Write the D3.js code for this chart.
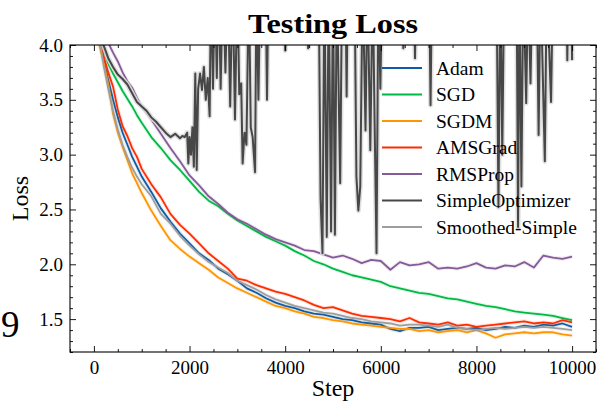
<!DOCTYPE html>
<html>
<head>
<meta charset="utf-8">
<script src="https://cdn.jsdelivr.net/npm/d3@7"></script>
<style>
  body { margin: 0; background: #fff; }
  text { font-family: "Liberation Serif", "DejaVu Serif", serif; fill: #000; }
</style>
</head>
<body>
<svg id="chart" width="597" height="406"></svg>
<script>
// steps shared by the smooth optimizers
const steps = [0, 100, 200, 300, 400, 500, 600, 700, 800, 900, 1000,
  1200, 1400, 1600, 1800, 2000, 2200, 2400, 2600, 2800, 3000,
  3200, 3400, 3600, 3800, 4000, 4200, 4400, 4600, 4800, 5000,
  5200, 5400, 5600, 5800, 6000, 6200, 6400, 6600, 6800, 7000,
  7200, 7400, 7600, 7800, 8000, 8200, 8400, 8600, 8800, 9000,
  9200, 9400, 9600, 9800, 10000];

const adam = [6.0, 4.15, 3.88, 3.68, 3.50, 3.34, 3.20, 3.09, 2.98, 2.89, 2.80,
  2.66, 2.51, 2.39, 2.28, 2.19, 2.10, 2.04, 1.96, 1.91, 1.85,
  1.78, 1.74, 1.69, 1.65, 1.62, 1.60, 1.57, 1.55, 1.54, 1.52,
  1.50, 1.49, 1.47, 1.46, 1.45, 1.41, 1.39, 1.42, 1.42, 1.43,
  1.40, 1.41, 1.42, 1.41, 1.42, 1.40, 1.41, 1.43, 1.42, 1.44,
  1.43, 1.45, 1.44, 1.46, 1.43];

const sgd = [6.0, 4.12, 3.96, 3.83, 3.74, 3.66, 3.58, 3.51, 3.44, 3.36, 3.29,
  3.16, 3.06, 2.95, 2.86, 2.76, 2.66, 2.58, 2.53, 2.46, 2.40,
  2.35, 2.30, 2.25, 2.21, 2.17, 2.12, 2.08, 2.03, 2.00, 1.96,
  1.93, 1.90, 1.88, 1.86, 1.84, 1.80, 1.78, 1.76, 1.74, 1.73,
  1.71, 1.69, 1.68, 1.66, 1.64, 1.62, 1.61, 1.59, 1.57, 1.56,
  1.55, 1.54, 1.53, 1.51, 1.49];

const sgdm = [6.0, 4.02, 3.85, 3.64, 3.37, 3.20, 3.07, 2.95, 2.83, 2.74, 2.65,
  2.49, 2.35, 2.22, 2.14, 2.07, 2.01, 1.95, 1.88, 1.83, 1.78,
  1.74, 1.70, 1.66, 1.62, 1.60, 1.57, 1.55, 1.52, 1.51, 1.49,
  1.48, 1.46, 1.45, 1.44, 1.43, 1.42, 1.41, 1.41, 1.39, 1.40,
  1.38, 1.39, 1.40, 1.38, 1.40, 1.37, 1.33, 1.36, 1.37, 1.38,
  1.37, 1.38, 1.38, 1.36, 1.35];

const amsgrad = [6.0, 4.12, 3.90, 3.75, 3.62, 3.41, 3.26, 3.17, 3.06, 2.98, 2.87,
  2.73, 2.61, 2.46, 2.36, 2.28, 2.19, 2.10, 2.03, 1.96, 1.87,
  1.85, 1.81, 1.78, 1.75, 1.73, 1.70, 1.67, 1.63, 1.60, 1.61,
  1.58, 1.55, 1.53, 1.52, 1.51, 1.50, 1.48, 1.51, 1.47, 1.46,
  1.45, 1.47, 1.44, 1.45, 1.43, 1.44, 1.45, 1.46, 1.47, 1.48,
  1.46, 1.47, 1.46, 1.49, 1.47];

const rmsprop = [6.0, 4.5, 4.15, 4.02, 3.93, 3.85, 3.75, 3.67, 3.61, 3.52, 3.44,
  3.32, 3.19, 3.06, 2.94, 2.81, 2.72, 2.62, 2.55, 2.47, 2.41,
  2.37, 2.32, 2.27, 2.23, 2.20, 2.17, 2.13, 2.12, 2.09, 2.06,
  2.08, 2.05, 2.01, 2.04, 2.03, 1.95, 2.02, 1.99, 2.00, 2.02,
  1.96, 1.97, 1.96, 1.98, 2.01, 1.97, 1.96, 1.99, 1.98, 2.02,
  1.97, 2.08, 2.06, 2.05, 2.07];

const smoothed = [6.0, 4.1, 3.82, 3.60, 3.40, 3.23, 3.09, 2.98, 2.88, 2.80, 2.73,
  2.62, 2.46, 2.37, 2.26, 2.17, 2.09, 2.02, 1.97, 1.92, 1.85,
  1.81, 1.77, 1.72, 1.68, 1.65, 1.62, 1.60, 1.58, 1.56, 1.55,
  1.53, 1.51, 1.50, 1.48, 1.47, 1.46, 1.44, 1.45, 1.45, 1.44,
  1.43, 1.45, 1.42, 1.41, 1.40, 1.41, 1.42, 1.41, 1.42, 1.43,
  1.42, 1.43, 1.42, 1.41, 1.40];

// the raw SimpleOptimizer run is spiky, so it has its own steps
// (4.6 = off the top of the axes)
const simpleSteps = [0, 100, 200, 300, 400, 500, 600, 700, 800, 900, 1000,
  1100, 1200, 1300, 1400, 1500, 1600, 1700, 1800, 1850, 1900, 1950, 1975,
  2000, 2030, 2060, 2090, 2120, 2150, 2180, 2220, 2260, 2300, 2340, 2380,
  2420, 2450, 2490, 2530, 2570, 2610, 2650, 2700, 2750, 2800, 2850, 2900,
  2950, 3000, 3040, 3080, 3110, 3150, 3190, 3240, 3280, 3320, 3370, 3400,
  3440, 3480, 3590, 3620, 3650,
  3980, 4000, 4020, 4460, 4480, 4500, 4700, 4740, 4780, 4820, 4870, 4910,
  4960, 5000, 5040, 5080, 5150, 5190, 5260, 5285, 5310, 5450, 5490, 5530,
  5570, 5620, 5680, 5720, 5780, 5830, 5870, 5910, 5950, 5990, 6030, 6450,
  6470, 6490, 6690, 6715, 6740, 7010, 7040, 7070, 8420, 8460, 8500, 8540,
  8580, 8840, 8870, 8900, 8940, 8980, 9040, 9080, 9130, 9170, 9260, 9300,
  9340, 9430, 9470, 9560, 9600, 9880, 9900, 9920, 9980, 10000];

const simple = [6.0, 4.3, 4.0, 3.88, 3.80, 3.73, 3.69, 3.64, 3.56, 3.48, 3.44,
  3.40, 3.34, 3.30, 3.25, 3.20, 3.16, 3.19, 3.15, 3.17, 3.16, 3.20, 2.92,
  3.16, 3.0, 3.25, 2.89, 3.74, 2.86, 3.6, 3.74, 3.59, 3.8, 3.5, 3.7,
  3.35, 4.6, 3.6, 4.6, 3.7, 4.6, 3.6, 4.6, 3.75, 4.6, 3.44, 4.6,
  3.32, 4.6, 3.55, 3.65, 2.92, 3.2, 3.09, 4.6, 3.25, 3.16, 2.84, 4.6,
  3.5, 4.6, 4.6, 3.5, 4.6,
  4.6, 3.95, 4.6, 4.6, 3.97, 4.6, 4.6, 2.6, 2.1, 4.6, 2.25, 4.6,
  2.3, 4.6, 2.27, 4.6, 2.74, 4.6, 4.6, 3.53, 4.6, 4.6, 2.8, 2.49,
  2.71, 4.6, 3.22, 4.6, 3.04, 4.6, 3.3, 2.10, 4.6, 3.6, 4.6, 4.6,
  3.97, 4.6, 4.6, 3.88, 4.6, 4.6, 3.45, 4.6, 4.6, 2.52, 4.6, 3.0,
  4.6, 4.6, 2.34, 4.6, 2.71, 4.6, 3.47, 4.6, 3.65, 4.6, 4.6, 3.18,
  4.6, 2.94, 4.6, 3.48, 4.6, 4.6, 3.86, 4.6, 4.6, 3.86];

const series = [
  { name: "Adam", x: steps, y: adam, color: "#0C5DA5" },
  { name: "SGD", x: steps, y: sgd, color: "#00B945" },
  { name: "SGDM", x: steps, y: sgdm, color: "#FF9500" },
  { name: "AMSGrad", x: steps, y: amsgrad, color: "#FF2C00" },
  { name: "RMSProp", x: steps, y: rmsprop, color: "#845B97" },
  { name: "SimpleOptimizer", x: simpleSteps, y: simple, color: "#474747" },
  { name: "Smoothed-Simple", x: steps, y: smoothed, color: "#9e9e9e" }
];

const xTicks = [0, 2000, 4000, 6000, 8000, 10000];
const yTicks = [1.5, 2.0, 2.5, 3.0, 3.5, 4.0];

const width = 597, height = 406;
const margin = { top: 45, right: 1, bottom: 54, left: 70 };

const svg = d3.select("#chart");

const x = d3.scaleLinear().domain([-500, 10500]).range([margin.left, width - margin.right]);
const y = d3.scaleLinear().domain([1.2, 4.0]).range([height - margin.bottom, margin.top]);

svg.append("defs").append("clipPath").attr("id", "clip")
  .append("rect")
  .attr("x", margin.left).attr("y", margin.top)
  .attr("width", x.range()[1] - x.range()[0])
  .attr("height", y.range()[0] - y.range()[1]);

const line = d3.line().x(d => x(d[0])).y(d => y(d[1]));

const plot = svg.append("g").attr("clip-path", "url(#clip)");

series.forEach(s => {
  const pts = s.x.map((v, i) => [v, s.y[i]]);
  const isSimple = s.name === "SimpleOptimizer";
  // faint halo like the shaded spread
  plot.append("path")
    .attr("d", line(pts))
    .attr("fill", "none")
    .attr("stroke", isSimple ? "#dcdcdc" : s.color)
    .attr("stroke-opacity", isSimple ? 0.9 : 0.12)
    .attr("stroke-width", isSimple ? 5 : 4)
    .attr("stroke-linejoin", "round");
  plot.append("path")
    .attr("d", line(pts))
    .attr("fill", "none")
    .attr("stroke", s.color)
    .attr("stroke-width", isSimple ? 2 : 1.8)
    .attr("stroke-linejoin", "round");
});

// axes with inward ticks on every side
const xb = height - margin.bottom, yl = margin.left;
const xr = width - margin.right, yt = margin.top;

const xMinor = d3.range(-500, 10501, 500).filter(v => !xTicks.includes(v));
const yMinor = d3.range(12, 41).map(v => v / 10).filter(v => !yTicks.some(t => Math.abs(t - v) < 1e-9));

svg.append("g").attr("transform", `translate(0,${xb})`)
  .call(d3.axisBottom(x).tickValues(xTicks).tickSize(-6).tickPadding(9).tickFormat(d3.format("d")))
  .call(g => g.select(".domain").remove());
svg.append("g").attr("transform", `translate(0,${xb})`)
  .call(d3.axisBottom(x).tickValues(xMinor).tickSize(-3).tickFormat(""))
  .call(g => g.select(".domain").remove());
svg.append("g").attr("transform", `translate(0,${yt})`)
  .call(d3.axisTop(x).tickValues(xTicks).tickSize(-6).tickFormat(""))
  .call(g => g.select(".domain").remove());
svg.append("g").attr("transform", `translate(0,${yt})`)
  .call(d3.axisTop(x).tickValues(xMinor).tickSize(-3).tickFormat(""))
  .call(g => g.select(".domain").remove());

svg.append("g").attr("transform", `translate(${yl},0)`)
  .call(d3.axisLeft(y).tickValues(yTicks).tickSize(-6).tickPadding(7).tickFormat(d3.format(".1f")))
  .call(g => g.select(".domain").remove());
svg.append("g").attr("transform", `translate(${yl},0)`)
  .call(d3.axisLeft(y).tickValues(yMinor).tickSize(-3).tickFormat(""))
  .call(g => g.select(".domain").remove());
svg.append("g").attr("transform", `translate(${xr},0)`)
  .call(d3.axisRight(y).tickValues(yTicks).tickSize(-6).tickFormat(""))
  .call(g => g.select(".domain").remove());
svg.append("g").attr("transform", `translate(${xr},0)`)
  .call(d3.axisRight(y).tickValues(yMinor).tickSize(-3).tickFormat(""))
  .call(g => g.select(".domain").remove());

svg.selectAll(".tick line").attr("stroke", "#000").attr("stroke-width", 0.9);
svg.selectAll(".tick text")
  .style("font-family", '"Liberation Serif", serif')
  .style("font-size", "19px")
  .attr("fill", "#000");

svg.append("rect")
  .attr("x", yl).attr("y", yt)
  .attr("width", xr - yl).attr("height", xb - yt)
  .attr("fill", "none").attr("stroke", "#000").attr("stroke-width", 1.1);

// titles
svg.append("text")
  .attr("x", (yl + xr) / 2).attr("y", 33)
  .attr("text-anchor", "middle")
  .style("font-size", "27px").style("font-weight", "bold")
  .attr("textLength", 170).attr("lengthAdjust", "spacingAndGlyphs")
  .text("Testing Loss");

svg.append("text")
  .attr("x", (yl + xr) / 2).attr("y", 396)
  .attr("text-anchor", "middle")
  .style("font-size", "24px")
  .text("Step");

svg.append("text")
  .attr("transform", `translate(28,${(yt + xb) / 2}) rotate(-90)`)
  .attr("text-anchor", "middle")
  .style("font-size", "24px")
  .text("Loss");

svg.append("text")
  .attr("x", 1).attr("y", 337)
  .style("font-size", "37px")
  .text("9");

// legend
const legend = svg.append("g");
series.forEach((s, i) => {
  const cy = 68 + i * 26.5;
  legend.append("line")
    .attr("x1", 382).attr("x2", 422).attr("y1", cy).attr("y2", cy)
    .attr("stroke", s.color).attr("stroke-width", 1.8);
  legend.append("text")
    .attr("x", 436).attr("y", cy).attr("dy", "0.35em")
    .style("font-size", "19.5px")
    .text(s.name);
});
</script>
</body>
</html>
